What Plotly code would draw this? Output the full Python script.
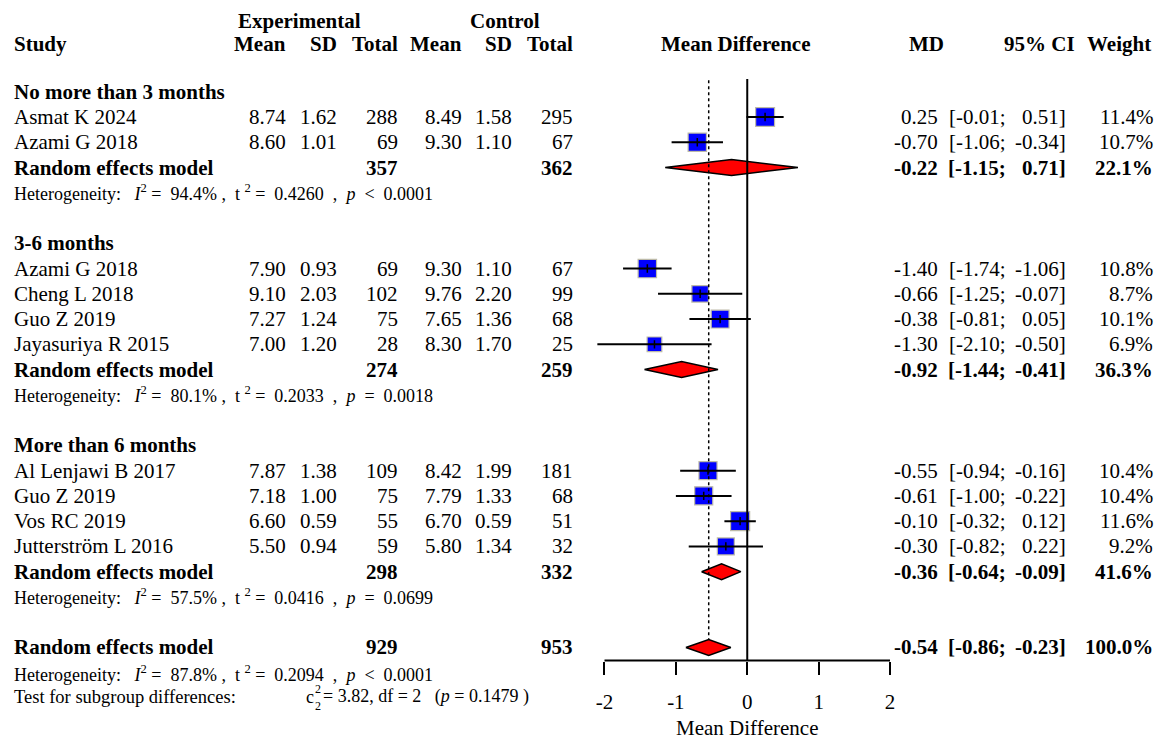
import math
import plotly.graph_objects as go

# ---------------- data ----------------
group_names = ["No more than 3 months", "3-6 months", "More than 6 months"]
study_names = ["Asmat K 2024", "Azami G 2018", "Azami G 2018", "Cheng L 2018", "Guo Z 2019",
               "Jayasuriya R 2015", "Al Lenjawi B 2017", "Guo Z 2019", "Vos RC 2019",
               "Jutterström L 2016"]
study_group = [0, 0, 1, 1, 1, 1, 2, 2, 2, 2]
exp_mean = [8.74, 8.60, 7.90, 9.10, 7.27, 7.00, 7.87, 7.18, 6.60, 5.50]
exp_sd = [1.62, 1.01, 0.93, 2.03, 1.24, 1.20, 1.38, 1.00, 0.59, 0.94]
exp_n = [288, 69, 69, 102, 75, 28, 109, 75, 55, 59]
ctl_mean = [8.49, 9.30, 9.30, 9.76, 7.65, 8.30, 8.42, 7.79, 6.70, 5.80]
ctl_sd = [1.58, 1.10, 1.10, 2.20, 1.36, 1.70, 1.99, 1.33, 0.59, 1.34]
ctl_n = [295, 67, 67, 99, 68, 25, 181, 68, 51, 32]
md = [0.25, -0.70, -1.40, -0.66, -0.38, -1.30, -0.55, -0.61, -0.10, -0.30]
ci_lo = [-0.01, -1.06, -1.74, -1.25, -0.81, -2.10, -0.94, -1.00, -0.32, -0.82]
ci_hi = [0.51, -0.34, -1.06, -0.07, 0.05, -0.50, -0.16, -0.22, 0.12, 0.22]
weight = [11.4, 10.7, 10.8, 8.7, 10.1, 6.9, 10.4, 10.4, 11.6, 9.2]

sub_exp_n = [357, 274, 298]
sub_ctl_n = [362, 259, 332]
sub_md = [-0.22, -0.92, -0.36]
sub_lo = [-1.15, -1.44, -0.64]
sub_hi = [0.71, -0.41, -0.09]
sub_weight = [22.1, 36.3, 41.6]
het_i2 = [94.4, 80.1, 57.5]
het_tau2 = [0.4260, 0.2033, 0.0416]
het_p = ["< 0.0001", "= 0.0018", "= 0.0699"]

overall_exp_n = 929
overall_ctl_n = 953
overall_md = -0.54
overall_lo = -0.86
overall_hi = -0.23
overall_weight = 100.0
overall_i2 = 87.8
overall_tau2 = 0.2094
overall_p = "< 0.0001"
test_chi2 = 3.82
test_df = 2
test_p = 0.1479

axis_ticks = [-2, -1, 0, 1, 2]
axis_ticktext = ["-2", "-1", "0", "1", "2"]

# ---------------- layout constants ----------------
W, H = 1170, 754
FONT = "Liberation Serif"
FS = 21
FS_HET = 18
ROW0 = 91.74      # pixel y of row 0
ROWH = 25.26      # pixel height of a row
DIAM_H = 0.315    # half height of diamonds (rows)
NB = "\u00a0"

# row indices
grp_k, study_k, sub_k, het_k = [], [], [], []
k = 0
for g in range(len(group_names)):
    grp_k.append(k)
    k += 1
    for i in range(len(study_names)):
        if study_group[i] == g:
            study_k.append(k)
            k += 1
    sub_k.append(k)
    k += 1
    het_k.append(k)
    k += 2
overall_k = k
overall_het_k = overall_k + 1.05
test_k = overall_k + 1.95
axis_k = overall_k + 0.52

# columns (pixel x)
X_STUDY = 12.5
X_EMEAN, X_ESD, X_ETOT = 287, 337.5, 399
X_CMEAN, X_CSD, X_CTOT = 463, 513, 574
X_MD, X_CILO, X_CIHI, X_W = 939.3, 1007, 1066.5, 1153.7

ann = []


def txt(x, y, s, anchor="right", size=FS, bold=False):
    if bold:
        s = "<b>" + s + "</b>"
    ann.append(dict(x=x, y=y, xref="x", yref="y", text=s, showarrow=False,
                    xanchor=anchor, yanchor="middle", borderpad=0,
                    font=dict(family=FONT, size=size, color="black")))


# headers
hk1, hk2 = -2.79, -1.88
txt(236.5, hk1, "Experimental", "left", bold=True)
txt(469, hk1, "Control", "left", bold=True)
txt(X_STUDY, hk2, "Study", "left", bold=True)
for x, s in [(X_EMEAN, "Mean"), (X_ESD, "SD"), (X_ETOT, "Total"),
             (X_CMEAN, "Mean"), (X_CSD, "SD"), (X_CTOT, "Total"),
             (945, "MD"), (1076, "95% CI"), (1152, "Weight")]:
    txt(x, hk2, s, "right", bold=True)
txt(735.6, hk2, "Mean Difference", "center", bold=True)


def het_text(i2, tau2, p):
    rel, val = p.split(" ")
    rel = rel.replace("<", "&lt;")
    return ("Heterogeneity:" + NB * 3 + "<i>I</i><sup>2</sup>" + NB + "=" + NB * 2 + f"{i2:.1f}%"
            + NB + "," + NB * 2 + "t" + NB + "<sup>2</sup>" + NB + "=" + NB * 2 + f"{tau2:.4f}"
            + NB * 2 + "," + NB * 2 + "<i>p</i>" + NB * 2 + rel + NB * 2 + val)


for g, name in enumerate(group_names):
    txt(X_STUDY, grp_k[g], name, "left", bold=True)
    txt(X_STUDY, sub_k[g], "Random effects model", "left", bold=True)
    txt(X_ETOT, sub_k[g], f"{sub_exp_n[g]}", bold=True)
    txt(X_CTOT, sub_k[g], f"{sub_ctl_n[g]}", bold=True)
    txt(X_MD, sub_k[g], f"{sub_md[g]:.2f}", bold=True)
    txt(X_CILO, sub_k[g], f"[{sub_lo[g]:.2f};", bold=True)
    txt(X_CIHI, sub_k[g], f"{sub_hi[g]:.2f}]", bold=True)
    txt(X_W, sub_k[g], f"{sub_weight[g]:.1f}%", bold=True)
    txt(X_STUDY, het_k[g], het_text(het_i2[g], het_tau2[g], het_p[g]), "left", size=FS_HET)

for i, name in enumerate(study_names):
    y = study_k[i]
    txt(X_STUDY, y, name, "left")
    txt(X_EMEAN, y, f"{exp_mean[i]:.2f}")
    txt(X_ESD, y, f"{exp_sd[i]:.2f}")
    txt(X_ETOT, y, f"{exp_n[i]}")
    txt(X_CMEAN, y, f"{ctl_mean[i]:.2f}")
    txt(X_CSD, y, f"{ctl_sd[i]:.2f}")
    txt(X_CTOT, y, f"{ctl_n[i]}")
    txt(X_MD, y, f"{md[i]:.2f}")
    txt(X_CILO, y, f"[{ci_lo[i]:.2f};")
    txt(X_CIHI, y, f"{ci_hi[i]:.2f}]")
    txt(X_W, y, f"{weight[i]:.1f}%")

txt(X_STUDY, overall_k, "Random effects model", "left", bold=True)
txt(X_ETOT, overall_k, f"{overall_exp_n}", bold=True)
txt(X_CTOT, overall_k, f"{overall_ctl_n}", bold=True)
txt(X_MD, overall_k, f"{overall_md:.2f}", bold=True)
txt(X_CILO, overall_k, f"[{overall_lo:.2f};", bold=True)
txt(X_CIHI, overall_k, f"{overall_hi:.2f}]", bold=True)
txt(X_W, overall_k, f"{overall_weight:.1f}%", bold=True)
txt(X_STUDY, overall_het_k, het_text(overall_i2, overall_tau2, overall_p), "left", size=FS_HET)
txt(X_STUDY, test_k, "Test for subgroup differences:", "left", size=18.5)
txt(305, test_k, "c", "left", size=FS_HET)
txt(313.5, test_k - 0.3, "2", "left", size=12)
txt(313.5, test_k + 0.38, "2", "left", size=12)
txt(322, test_k, f"=" + NB + f"{test_chi2:.2f}," + NB + "df" + NB + "=" + NB + f"{test_df}" + NB * 2
    + NB + "(<i>p</i>" + NB + "=" + NB + f"{test_p:.4f}" + NB + ")", "left", size=FS_HET)

# ---------------- traces ----------------
fig = go.Figure()

# study squares
fig.add_trace(go.Scatter(
    x=md, y=study_k, xaxis="x2", yaxis="y", mode="markers",
    marker=dict(symbol="square", size=[5.6 * math.sqrt(w) for w in weight], opacity=1,
                color="#0000ff", line=dict(color="#bdbaa8", width=1.2)),
    hoverinfo="skip", showlegend=False))

# confidence intervals
cx, cy = [], []
for lo, hi, y in zip(ci_lo, ci_hi, study_k):
    cx += [lo, hi, None]
    cy += [y, y, None]
fig.add_trace(go.Scatter(x=cx, y=cy, xaxis="x2", yaxis="y", mode="lines",
                         line=dict(color="black", width=2), hoverinfo="skip", showlegend=False))

# point ticks
fig.add_trace(go.Scatter(
    x=md, y=study_k, xaxis="x2", yaxis="y", mode="markers",
    marker=dict(symbol="line-ns", size=6, line=dict(color="black", width=1.5)),
    hoverinfo="skip", showlegend=False))

# diamonds
dx, dy = [], []
for est, lo, hi, y in zip(sub_md + [overall_md], sub_lo + [overall_lo], sub_hi + [overall_hi],
                          sub_k + [overall_k]):
    dx += [lo, est, hi, est, lo, None]
    dy += [y, y - DIAM_H, y, y + DIAM_H, y, None]
fig.add_trace(go.Scatter(x=dx, y=dy, xaxis="x2", yaxis="y", mode="lines", fill="toself",
                         fillcolor="#ff0000", line=dict(color="black", width=1.5),
                         hoverinfo="skip", showlegend=False))

# ---------------- layout ----------------
X2_LO, X2_HI = -2.3, 2.3
PX_M2, PX_P2 = 604.5, 890.0
unit = (PX_P2 - PX_M2) / 4.0
zero_px = (PX_M2 + PX_P2) / 2
dom = [(zero_px + X2_LO * unit) / W, (zero_px + X2_HI * unit) / W]

y_top = -ROW0 / ROWH
y_bot = (H - ROW0) / ROWH
axis_pos = 1 - (ROW0 + axis_k * ROWH) / H

fig.update_layout(
    width=W, height=H, margin=dict(l=0, r=0, t=0, b=0),
    paper_bgcolor="white", plot_bgcolor="white",
    font=dict(family=FONT, size=FS, color="black"),
    annotations=ann,
    xaxis=dict(range=[0, W], domain=[0, 1], visible=False, fixedrange=True),
    yaxis=dict(range=[y_bot, y_top], domain=[0, 1], visible=False, fixedrange=True),
    xaxis2=dict(range=[X2_LO, X2_HI], domain=dom, anchor="free", position=axis_pos,
                showline=False, showgrid=False, zeroline=False,
                ticks="outside", ticklen=13, tickwidth=2, tickcolor="black",
                tickvals=axis_ticks, ticktext=axis_ticktext,
                tickfont=dict(family=FONT, size=FS, color="black"), ticklabelstandoff=9,
                title=dict(text="Mean Difference", font=dict(family=FONT, size=FS, color="black"),
                           standoff=7),
                fixedrange=True),
    shapes=[
        dict(type="line", xref="x2", yref="y", x0=axis_ticks[0], x1=axis_ticks[-1],
             y0=axis_k, y1=axis_k, line=dict(color="black", width=2)),
        dict(type="line", xref="x2", yref="y", x0=0, x1=0, y0=-0.5, y1=axis_k,
             line=dict(color="black", width=2)),
        dict(type="line", xref="x2", yref="y", x0=overall_md, x1=overall_md, y0=-0.45,
             y1=overall_k - DIAM_H, line=dict(color="black", width=1.5, dash="dot")),
    ],
)

fig.write_html("out.html", config={"displayModeBar": False},
               post_script="document.body.style.margin='0px';")
